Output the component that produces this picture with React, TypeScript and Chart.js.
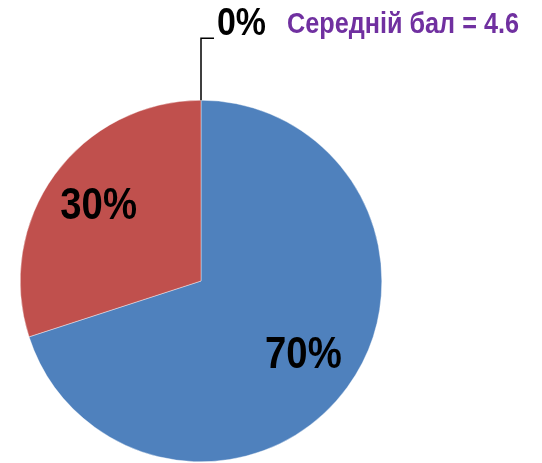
import React, { useEffect, useRef } from "react";
import { Chart, registerables } from "chart.js";

Chart.register(...registerables);

const categories = ["5", "4", "3"];
const percentValues = [70, 30, 0];
const sliceColors = ["#4F81BD", "#C0504D", "#9BBB59"];
const averageLabel = "Середній бал = 4.6";

const FONT = "'Liberation Sans', Arial, sans-serif";
const NARROW = 0.87;

function narrowText(ctx: any, text: string, x: number, y: number, align: "left" | "center") {
  ctx.save();
  ctx.translate(x, y);
  ctx.scale(NARROW, 1);
  ctx.textAlign = align;
  ctx.fillText(text, 0, 0);
  ctx.restore();
}

const labelPlugin = {
  id: "sliceLabels",
  afterDatasetsDraw(chart: any) {
    const ctx = chart.ctx;
    const meta = chart.getDatasetMeta(0);
    ctx.save();
    meta.data.forEach((arc: any, i: number) => {
      const v = percentValues[i];
      const text = v + "%";
      const { x, y, startAngle, endAngle, outerRadius } = arc.getProps(
        ["x", "y", "startAngle", "endAngle", "outerRadius"],
        true
      );
      ctx.fillStyle = "#000";
      ctx.font = "bold 44px " + FONT;
      ctx.textBaseline = "middle";
      if (v === 0) {
        const px = x + Math.cos(startAngle) * outerRadius;
        const py = y + Math.sin(startAngle) * outerRadius;
        ctx.strokeStyle = "#000";
        ctx.lineWidth = 1.5;
        ctx.beginPath();
        ctx.moveTo(px, py);
        ctx.lineTo(px, py - 62);
        ctx.lineTo(px + 13, py - 62);
        ctx.stroke();
        ctx.font = "bold 39px " + FONT;
        narrowText(ctx, text, px + 16, py - 76, "left");
      } else {
        const mid = (startAngle + endAngle) / 2;
        const r = outerRadius * 0.7;
        narrowText(ctx, text, x + Math.cos(mid) * r, y + Math.sin(mid) * r, "center");
      }
    });
    ctx.fillStyle = "#7030A0";
    ctx.font = "bold 29px " + FONT;
    ctx.textBaseline = "alphabetic";
    narrowText(ctx, averageLabel, 287, 33, "left");
    ctx.restore();
  },
};

export default function App() {
  const ref = useRef<HTMLCanvasElement>(null);
  useEffect(() => {
    if (!ref.current) return;
    const chart = new Chart(ref.current, {
      type: "pie",
      data: {
        labels: categories,
        datasets: [
          {
            data: percentValues,
            backgroundColor: sliceColors,
            borderColor: "#ffffff",
            borderWidth: 0.4,
          },
        ],
      },
      options: {
        animation: false,
        responsive: true,
        maintainAspectRatio: false,
        layout: { padding: { left: 20, right: 160, top: 100, bottom: 1 } },
        plugins: {
          legend: { display: false },
          tooltip: { enabled: false },
          title: { display: false },
        },
      },
      plugins: [labelPlugin],
    });
    return () => chart.destroy();
  }, []);
  return (
    <div style={{ position: "fixed", left: 0, top: 0, width: 542, height: 463, background: "#fff" }}>
      <canvas ref={ref} />
    </div>
  );
}
